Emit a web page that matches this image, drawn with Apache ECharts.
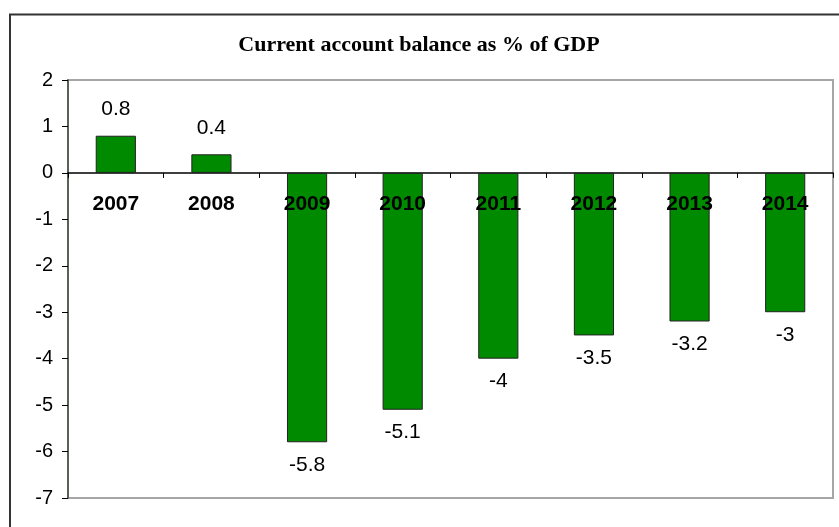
<!DOCTYPE html>
<html>
<head>
<meta charset="utf-8">
<script src="https://cdn.jsdelivr.net/npm/echarts@6/dist/echarts.min.js"></script>
<style>
  html, body { margin: 0; padding: 0; background: #fff; }
  #chart { width: 839px; height: 527px; }
</style>
</head>
<body>
<div id="chart"></div>
<script>
// Current account balance, % of GDP
const years = ['2007', '2008', '2009', '2010', '2011', '2012', '2013', '2014'];
const balance = [0.8, 0.4, -5.8, -5.1, -4, -3.5, -3.2, -3];
const yTicks = { min: -7, max: 2, step: 1 };

const chart = echarts.init(document.getElementById('chart'), null, { renderer: 'canvas' });

const barData = balance.map(v => ({
  value: v,
  label: { position: v >= 0 ? 'top' : 'bottom', distance: v >= 0 ? 16 : 12 }
}));

// year names sit just under the zero line
const yearMarks = years.map(y => [y, 0]);

const sansFont = '"Liberation Sans", Arial, sans-serif';

chart.setOption({
  animation: false,
  backgroundColor: '#ffffff',
  title: {
    text: 'Current account balance as % of GDP',
    left: 414,
    textAlign: 'center',
    top: 29,
    textStyle: {
      fontFamily: '"Liberation Serif", "Times New Roman", serif',
      fontWeight: 'bold',
      fontSize: 22,
      color: '#000'
    }
  },
  graphic: [{
    type: 'rect',
    shape: { x: 10, y: 14.5, width: 900, height: 600 },
    style: { fill: 'none', stroke: '#333', lineWidth: 2 },
    silent: true
  }],
  grid: {
    left: 68, top: 80, right: 6, bottom: 29,
    outerBoundsMode: 'none',
    containLabel: false,
    show: true,
    borderColor: '#a6a6a6',
    borderWidth: 2,
    backgroundColor: 'transparent'
  },
  xAxis: {
    type: 'category',
    data: years,
    boundaryGap: true,
    axisLine: { onZero: true, lineStyle: { color: '#000', width: 1.5 } },
    axisTick: { show: true, alignWithLabel: false, length: 5, lineStyle: { color: '#000' } },
    axisLabel: { show: false },
    splitLine: { show: false }
  },
  yAxis: {
    type: 'value',
    min: yTicks.min,
    max: yTicks.max,
    interval: yTicks.step,
    axisLine: { show: true, lineStyle: { color: '#3c4a3c', width: 1.5 } },
    axisTick: { show: true, length: 6, lineStyle: { color: '#000' } },
    axisLabel: {
      margin: 15,
      fontFamily: sansFont,
      fontSize: 20,
      color: '#000'
    },
    splitLine: { show: false }
  },
  series: [{
    type: 'bar',
    data: barData,
    barWidth: '42%',
    itemStyle: { color: '#008a00', borderColor: '#222', borderWidth: 1 },
    label: {
      show: true,
      fontFamily: sansFont,
      fontSize: 21,
      color: '#000'
    },
    z: 2
  }, {
    type: 'scatter',
    data: yearMarks,
    symbol: 'rect',
    symbolSize: 2,
    itemStyle: { color: 'rgba(0,0,0,0)' },
    silent: true,
    z: 5,
    label: {
      show: true,
      opacity: 1,
      position: 'bottom',
      distance: 20,
      formatter: p => p.value[0],
      fontFamily: sansFont,
      fontWeight: 'bold',
      fontSize: 21,
      color: '#000'
    },
    emphasis: { disabled: true }
  }]
});
</script>
</body>
</html>
